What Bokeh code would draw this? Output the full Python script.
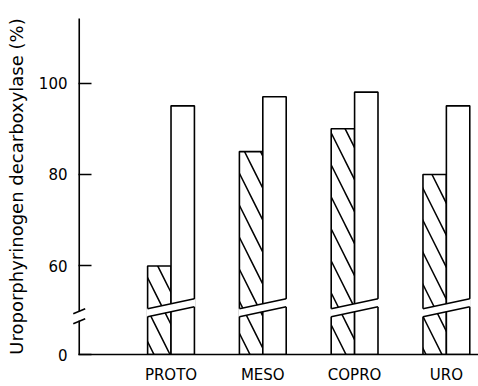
from bokeh.plotting import figure
from bokeh.models import Range1d, FixedTicker, ColumnDataSource
from bokeh.transform import dodge
from bokeh.embed import file_html
from bokeh.resources import INLINE

# ---- data ----
categories = ["PROTO", "MESO", "COPRO", "URO"]
hatched_vals = [60, 85, 90, 80]     # hatched bars
open_vals = [95, 97, 98, 95]        # open bars
y_tick_vals = [60, 80, 100]
zero_label = "0"
y_title = "Uroporphyrinogen decarboxylase (%)"

# ---- layout constants (broken axis) ----
BASE = 40.65          # where the broken axis shows 0
Y_TOP = 114.1
BAR_W = 0.255
GAP_UL, GAP_UR = 50.65, 52.83   # upper edge of the break across a bar pair
GAP_LL, GAP_LR = 48.91, 51.09   # lower edge of the break
FONT = "DejaVu Sans"

xs = list(range(1, len(categories) + 1))
src = ColumnDataSource(dict(x=xs, cat=categories, h=hatched_vals, o=open_vals))

p = figure(width=478, height=386, output_backend="svg", toolbar_location=None,
           x_range=Range1d(-0.008, 4.35), y_range=Range1d(BASE, Y_TOP),
           min_border_left=78, min_border_top=18, min_border_bottom=30,
           min_border_right=0, outline_line_color=None)
p.grid.visible = False
p.background_fill_color = "white"

p.vbar(x=dodge("x", -BAR_W / 2), top="h", bottom=BASE, width=BAR_W, source=src,
       fill_color="white", line_color="black", line_width=1.6,
       hatch_pattern="\\", hatch_scale=32, hatch_weight=1.5, hatch_color="black")
p.vbar(x=dodge("x", BAR_W / 2), top="o", bottom=BASE, width=BAR_W, source=src,
       fill_color="white", line_color="black", line_width=1.6)

# break through each bar pair
gx, gy = [], []
for c in xs:
    xl, xr = c - BAR_W - 0.012, c + BAR_W + 0.012
    gx.append([xl, xr, xr, xl])
    gy.append([GAP_UL, GAP_UR, GAP_LR, GAP_LL])
p.patches(gx, gy, fill_color="white", line_color=None)
p.segment(x0=[c - BAR_W for c in xs], y0=GAP_UL, x1=[c + BAR_W for c in xs], y1=GAP_UR,
          line_color="black", line_width=1.6)
p.segment(x0=[c - BAR_W for c in xs], y0=GAP_LL, x1=[c + BAR_W for c in xs], y1=GAP_LR,
          line_color="black", line_width=1.6)

# y axis line with break
p.segment(x0=[0, 0], y0=[BASE, 50.1], x1=[0, 0], y1=[48.05, Y_TOP],
          line_color="black", line_width=1.6, level="overlay")
p.segment(x0=[-0.065, -0.065], y0=[49.57, 47.39], x1=[0.065, 0.065], y1=[50.65, 48.48],
          line_color="black", line_width=1.6, level="overlay")

yax = p.yaxis[0]
yax.ticker = FixedTicker(ticks=[BASE] + y_tick_vals)
yax.major_label_overrides = {BASE: zero_label}
yax.axis_line_color = None
yax.major_tick_in = 13
yax.major_tick_out = 0
yax.major_tick_line_width = 1.6
yax.minor_tick_line_color = None
yax.major_label_standoff = 11
yax.major_label_text_font = FONT
yax.major_label_text_font_size = "15px"
yax.major_label_text_color = "black"
yax.axis_label = y_title
yax.axis_label_text_font = FONT
yax.axis_label_text_font_size = "18px"
yax.axis_label_text_font_style = "normal"
yax.axis_label_text_color = "black"
yax.axis_label_standoff = 9

xax = p.xaxis[0]
xax.ticker = FixedTicker(ticks=xs)
xax.major_label_overrides = {x: c for x, c in zip(xs, categories)}
xax.axis_line_width = 1.6
xax.axis_line_color = "black"
xax.major_tick_line_color = None
xax.minor_tick_line_color = None
xax.major_label_standoff = 5
xax.major_label_text_font = FONT
xax.major_label_text_font_size = "15px"
xax.major_label_text_color = "black"

open("out.html", "w").write(file_html(p, INLINE))
